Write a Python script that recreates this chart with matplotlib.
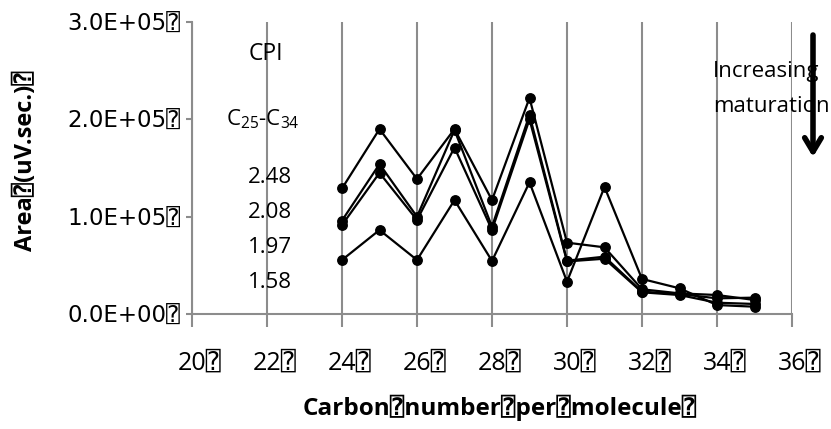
import matplotlib
matplotlib.use("Agg")
import matplotlib.pyplot as plt
from matplotlib.ticker import FixedLocator, FuncFormatter
from matplotlib.transforms import ScaledTranslation

plt.rcParams['font.family'] = ['Open Sans', 'DejaVu Sans', 'DejaVu Sans Mono']
plt.rcParams['mathtext.fontset'] = 'custom'
plt.rcParams['mathtext.rm'] = 'Open Sans'

BOX = '\u2370'

carbon = [24, 25, 26, 27, 28, 29, 30, 31, 32, 33, 34, 35]
cpi_labels = ['2.48', '2.08', '1.97', '1.58']
series_a = [1.29e5, 1.90e5, 1.387e5, 1.90e5, 1.17e5, 2.22e5, 0.733e5, 0.685e5, 0.254e5, 0.212e5, 0.195e5, 0.144e5]
series_b = [0.96e5, 1.54e5, 1.00e5, 1.89e5, 0.897e5, 2.045e5, 0.548e5, 0.589e5, 0.229e5, 0.205e5, 0.161e5, 0.168e5]
series_c = [0.914e5, 1.45e5, 0.966e5, 1.71e5, 0.863e5, 2.00e5, 0.54e5, 0.568e5, 0.223e5, 0.195e5, 0.116e5, 0.103e5]
series_d = [0.555e5, 0.863e5, 0.555e5, 1.17e5, 0.545e5, 1.353e5, 0.332e5, 1.305e5, 0.36e5, 0.264e5, 0.092e5, 0.075e5]
x_ticks = [20, 22, 24, 26, 28, 30, 32, 34, 36]
y_ticks = [0, 1e5, 2e5, 3e5]

W, H = 831, 429
fig = plt.figure(figsize=(W / 100, H / 100), dpi=100)
ax = fig.add_axes([192 / W, 1 - 314 / H, 600 / W, 292 / H])

for s in (series_a, series_b, series_c, series_d):
    ax.plot(carbon, s, color='black', lw=1.6, marker='o', ms=6.8, zorder=3)

grey = '#8c8c8c'
ax.set_xlim(20, 36)
ax.set_ylim(0, 3e5)
ax.xaxis.set_major_locator(FixedLocator(x_ticks))
ax.yaxis.set_major_locator(FixedLocator(y_ticks))
ax.xaxis.set_major_formatter(FuncFormatter(lambda v, p: f"{int(v)}{BOX}"))
ax.yaxis.set_major_formatter(FuncFormatter(lambda v, p: f"{v:.1E}" + BOX))
ax.grid(axis='x', color=grey, lw=1.5)
ax.set_axisbelow(True)
for side in ('top', 'right'):
    ax.spines[side].set_visible(False)
for side in ('left', 'bottom'):
    ax.spines[side].set_color(grey)
    ax.spines[side].set_linewidth(1.5)
ax.tick_params(axis='x', direction='out', length=9, width=1.5, color=grey, labelsize=18, pad=17)
ax.tick_params(axis='y', direction='out', length=4.5, width=1.5, color=grey, labelsize=16.5, pad=4)
for lab in ax.get_yticklabels():
    lab.set_family(['DejaVu Sans', 'DejaVu Sans Mono'])
shift = ScaledTranslation(8 / 100, 0, fig.dpi_scale_trans)
for lab in ax.get_xticklabels():
    lab.set_transform(lab.get_transform() + shift)

ax.set_xlabel(f"Carbon{BOX}number{BOX}per{BOX}molecule{BOX}", fontsize=17.5, fontweight='bold')
ax.set_ylabel(f"Area{BOX}(uV.sec.){BOX}", fontsize=17, fontweight='bold')
ax.xaxis.set_label_coords((500 - 192) / 600, (314 - 408) / 292)
ax.yaxis.set_label_coords((26 - 192) / 600, (314 - 161) / 292)
ax.xaxis.label.set_va('center')
ax.yaxis.label.set_va('center')

def fx(px):
    return px / W

def fy(py):
    return 1 - py / H

fs = 16
fig.text(fx(266), fy(54), 'CPI', fontsize=fs + 0.5, ha='center', va='center')
fig.text(fx(226), fy(119), r'C$_{\mathregular{25}}$-C$_{\mathregular{34}}$', fontsize=fs, ha='left', va='center')
for lab, py in zip(cpi_labels, [178, 213, 247, 282]):
    fig.text(fx(248), fy(py), lab, fontsize=fs, ha='left', va='center')

fig.text(fx(713), fy(72), 'Increasing', fontsize=fs, ha='left', va='center')
fig.text(fx(713), fy(107), 'maturation', fontsize=fs, ha='left', va='center')
ax.annotate('', xy=(813, H - 157), xytext=(813, H - 35), xycoords='figure pixels',
            textcoords='figure pixels',
            arrowprops=dict(arrowstyle='->,head_length=1.0,head_width=0.6', lw=4, color='black',
                            shrinkA=0, shrinkB=0))

fig.savefig('out.png', dpi=100)
